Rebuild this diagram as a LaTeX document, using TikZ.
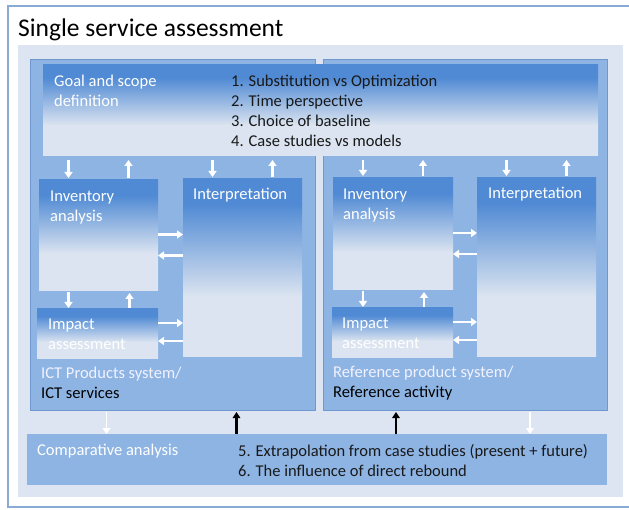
\documentclass[tikz,border=0pt]{standalone}
\usepackage{fontspec}
\setmainfont{Carlito}
\usetikzlibrary{arrows.meta,calc}

\definecolor{frameblue}{RGB}{138,170,214}
\definecolor{panelblue}{RGB}{220,229,241}
\definecolor{sysblue}{RGB}{142,180,227}
\definecolor{sysedge}{RGB}{110,152,206}
\definecolor{fadedark}{RGB}{80,138,212}
\definecolor{fadelight}{RGB}{219,228,240}
\pgfdeclareverticalshading{boxfade}{100bp}{color(0bp)=(fadelight); color(25bp)=(fadelight);
  color(42bp)=(fadelight); color(68bp)=(fadedark); color(75bp)=(fadedark); color(100bp)=(fadedark)}

\begin{document}
\begin{tikzpicture}[x=1pt, y=-1pt,
	box/.style={anchor=north west, inner sep=0pt, outer sep=0pt},
	sysbox/.style={box, fill=sysblue, draw=sysedge, line width=0.8pt},
	fadebox/.style={box, shade, shading=boxfade},
	lbl/.style={anchor=north west, inner sep=0pt, align=left, text=white,
		font=\fontsize{16.5}{20}\selectfont},
	item/.style={lbl, text=black!90},
	warr/.style={white, line width=2.2pt, -{Triangle[length=6pt, width=8pt]}},
	barr/.style={black, line width=2.2pt, -{Triangle[length=6pt, width=7.5pt]}}]
	\useasboundingbox (0,0) rectangle (629,510);
	\clip (0,0) rectangle (629,510);
	
	% Frame, title and background panel
	\draw[frameblue, line width=1.2pt] (8,6) rectangle (640,507);
	\node[anchor=north west, inner sep=0pt, font=\fontsize{25.5}{30}\selectfont] (title) at (18,19) {Single service assessment};
	\fill[panelblue] (18,45) rectangle (623,497);
	
	% The two product systems
	\node[sysbox, minimum width=285, minimum height=351] (sysL) at (30,59) {};
	\node[sysbox, minimum width=284, minimum height=351] (sysR) at (323,59) {};
	
	% Shaded boxes
	\node[fadebox, minimum width=555, minimum height=91] (goal) at (43,65) {};
	\node[fadebox, minimum width=119, minimum height=111] (invL) at (39,180) {};
	\node[fadebox, minimum width=119, minimum height=178] (intL) at (183,179) {};
	\node[fadebox, minimum width=121, minimum height=50] (impL) at (37,309) {};
	\node[fadebox, minimum width=120, minimum height=112] (invR) at (333,178) {};
	\node[fadebox, minimum width=119, minimum height=179] (intR) at (477,178) {};
	\node[fadebox, minimum width=121, minimum height=50] (impR) at (332,308) {};
	\node[box, fill=sysblue, minimum width=580, minimum height=51] (comp) at (27,434) {};
	
	% Labels
	\node[lbl] (goalT) at ([xshift=11pt, yshift=-10pt]goal.north west) {Goal and scope\\definition};
	\node[item] (goalI) at ([xshift=188pt, yshift=-10pt]goal.north west)
		{1. Substitution vs Optimization\\2. Time perspective\\3. Choice of baseline\\4. Case studies vs models};
	\node[lbl] (invLT) at ([xshift=11pt, yshift=-11pt]invL.north west) {Inventory\\analysis};
	\node[lbl] (intLT) at ([xshift=10pt, yshift=-9pt]intL.north west) {Interpretation};
	\node[lbl] (impLT) at ([xshift=11pt, yshift=-10pt]impL.north west) {Impact\\assessment};
	\node[lbl] (invRT) at ([xshift=10pt, yshift=-11pt]invR.north west) {Inventory\\analysis};
	\node[lbl] (intRT) at ([xshift=11pt, yshift=-9pt]intR.north west) {Interpretation};
	\node[lbl] (impRT) at ([xshift=10pt, yshift=-10pt]impR.north west) {Impact\\assessment};
	\node[lbl, text=white!95!blue] (sysLT) at ([xshift=4pt, yshift=-8pt]impL.south west)
		{ICT Products system/\\\textcolor{black}{ICT services}};
	\node[lbl, text=white!95!blue] (sysRT) at ([xshift=1pt, yshift=-8pt]impR.south west)
		{Reference product system/\\\textcolor{black}{Reference activity}};
	\node[lbl] (compT) at ([xshift=10pt, yshift=-10pt]comp.north west) {Comparative analysis};
	\node[item] (compI) at ([xshift=211pt, yshift=-10pt]comp.north west)
		{5. Extrapolation from case studies (present + future)\\6. The influence of direct rebound};
	
	% Arrows between goal and the boxes below it
	\foreach \b in {invL,intL,invR,intR} {
		\draw[warr, shorten <=4pt, shorten >=2pt] ([xshift=-30pt]\b.north |- goal.south) -- ([xshift=-30pt]\b.north);
		\draw[warr, shorten <=2pt, shorten >=4pt] ([xshift=30pt]\b.north) -- ([xshift=30pt]\b.north |- goal.south);
	}
	% Inventory <-> impact, and both <-> interpretation
	\foreach \i/\m/\n in {invL/impL/intL, invR/impR/intR} {
		\draw[warr, shorten <=1pt, shorten >=1pt] ([xshift=-30pt]\i.south) -- ([xshift=-30pt]\i.south |- \m.north);
		\draw[warr, shorten <=1pt, shorten >=2pt] ([xshift=31pt]\i.south |- \m.north) -- ([xshift=31pt]\i.south);
		\draw[warr] ([yshift=1pt]\i.east) -- ([yshift=1pt]\i.east -| \n.west);
		\draw[warr] ([yshift=-20pt]\i.east -| \n.west) -- ([yshift=-20pt]\i.east);
		\draw[warr] ([yshift=11pt]\m.east) -- ([yshift=11pt]\m.east -| \n.west);
		\draw[warr] ([yshift=-7pt]\m.east -| \n.west) -- ([yshift=-7pt]\m.east);
	}
	
	% Arrows to and from the comparative analysis
	\draw[warr, line width=1.6pt, shorten <=2pt] ([xshift=-66pt]sysL.south) -- ([xshift=-66pt]sysL.south |- comp.north);
	\draw[barr, shorten >=2pt] ([xshift=64pt]sysL.south |- comp.north) -- ([xshift=64pt]sysL.south);
	\draw[barr, shorten >=2pt] ([xshift=-69pt]sysR.south |- comp.north) -- ([xshift=-69pt]sysR.south);
	\draw[warr, line width=1.6pt, shorten <=2pt] ([xshift=65pt]sysR.south) -- ([xshift=65pt]sysR.south |- comp.north);
\end{tikzpicture}
\end{document}
